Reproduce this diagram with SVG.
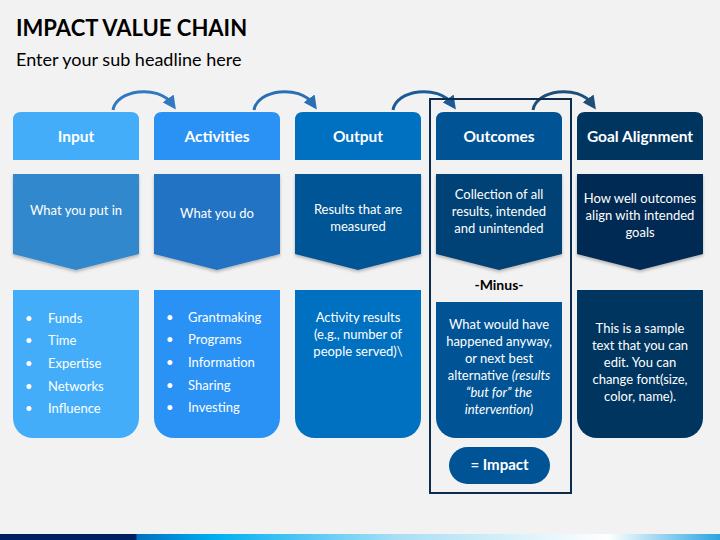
<svg xmlns="http://www.w3.org/2000/svg" width="720" height="540" viewBox="0 0 720 540">
<defs>
<style>
text{font-family:Lato,"Open Sans","Liberation Sans",sans-serif;}
.title{font-size:22px;font-weight:bold;fill:#000;}
.sub{font-size:18px;fill:#000;}
.hd{font-size:15.5px;font-weight:bold;fill:#fff;text-anchor:middle;}
.tx{font-size:13px;fill:#fff;text-anchor:middle;}
.bl{font-size:13px;fill:#fff;}
.arc{fill:none;stroke-width:3;}
</style>
<linearGradient id="bar" x1="0" y1="0" x2="1" y2="0">
<stop offset="0" stop-color="#002060"/>
<stop offset="0.189" stop-color="#002060"/>
<stop offset="0.19" stop-color="#0070c0"/>
<stop offset="0.3" stop-color="#00b0f0"/>
<stop offset="0.55" stop-color="#a8def5"/>
<stop offset="0.845" stop-color="#ffffff"/>
<stop offset="1" stop-color="#2ba3e0"/>
</linearGradient>
<marker id="ah1" viewBox="0 0 10 10" refX="5" refY="5" markerWidth="4.5" markerHeight="4.5" orient="auto"><path d="M0,0 L10,5 L0,10 Z" fill="#3079c0"/></marker>
<marker id="ah2" viewBox="0 0 10 10" refX="5" refY="5" markerWidth="4.5" markerHeight="4.5" orient="auto"><path d="M0,0 L10,5 L0,10 Z" fill="#2a6fb4"/></marker>
<marker id="ah3" viewBox="0 0 10 10" refX="5" refY="5" markerWidth="4.5" markerHeight="4.5" orient="auto"><path d="M0,0 L10,5 L0,10 Z" fill="#1b5a94"/></marker>
<marker id="ah4" viewBox="0 0 10 10" refX="5" refY="5" markerWidth="4.5" markerHeight="4.5" orient="auto"><path d="M0,0 L10,5 L0,10 Z" fill="#1f4e7a"/></marker>
<filter id="sh" x="-10%" y="-10%" width="120%" height="130%"><feDropShadow dx="0" dy="2" stdDeviation="1.5" flood-color="#000" flood-opacity="0.25"/></filter>
</defs>
<rect width="720" height="540" fill="#f2f2f2"/>
<text class="title" x="16" y="36">IMPACT VALUE CHAIN</text>
<text class="sub" x="16" y="66">Enter your sub headline here</text>

<g id="connectors">
<path class="arc" d="M113,110 C116,90 158,84 172,104" stroke="#3079c0" marker-end="url(#ah1)"/>
<path class="arc" d="M254,110 C257,90 299,84 313,104" stroke="#2a6fb4" marker-end="url(#ah2)"/>
<path class="arc" d="M393,110 C396,90 438,84 452,104" stroke="#1b5a94" marker-end="url(#ah3)"/>
<path class="arc" d="M533,110 C536,90 578,84 592,104" stroke="#1f4e7a" marker-end="url(#ah4)"/>
</g>

<rect id="outcomes-frame" x="430" y="99" width="141" height="394" fill="none" stroke="#0d2d50" stroke-width="2"/>

<g id="input">
<path d="M13,120 Q13,112 21,112 H131 Q139,112 139,120 V160 H13 Z" fill="#44adf9"/>
<text class="hd" x="76" y="142">Input</text>
<path d="M13,174 H139 V254 L76,270 L13,254 Z" fill="#3388cc" filter="url(#sh)"/>
<text class="tx" x="76" y="215">What you put in</text>
<path d="M13,290 H139 V418 A20,20 0 0 1 119,438 H33 A20,20 0 0 1 13,418 Z" fill="#44adf9"/>
<text class="bl" x="25" y="323">•</text><text class="bl" x="48" y="323">Funds</text>
<text class="bl" x="25" y="345">•</text><text class="bl" x="48" y="345">Time</text>
<text class="bl" x="25" y="368">•</text><text class="bl" x="48" y="368">Expertise</text>
<text class="bl" x="25" y="391">•</text><text class="bl" x="48" y="391">Networks</text>
<text class="bl" x="25" y="413">•</text><text class="bl" x="48" y="413">Influence</text>
</g>

<g id="activities">
<path d="M154,120 Q154,112 162,112 H272 Q280,112 280,120 V160 H154 Z" fill="#2a91f5"/>
<text class="hd" x="217" y="142">Activities</text>
<path d="M154,174 H280 V254 L217,270 L154,254 Z" fill="#2273c3" filter="url(#sh)"/>
<text class="tx" x="217" y="218">What you do</text>
<path d="M154,290 H280 V418 A20,20 0 0 1 260,438 H174 A20,20 0 0 1 154,418 Z" fill="#2a91f5"/>
<text class="bl" x="166" y="322">•</text><text class="bl" x="188" y="322">Grantmaking</text>
<text class="bl" x="166" y="344">•</text><text class="bl" x="188" y="344">Programs</text>
<text class="bl" x="166" y="367">•</text><text class="bl" x="188" y="367">Information</text>
<text class="bl" x="166" y="390">•</text><text class="bl" x="188" y="390">Sharing</text>
<text class="bl" x="166" y="412">•</text><text class="bl" x="188" y="412">Investing</text>
</g>

<g id="output">
<path d="M295,120 Q295,112 303,112 H413 Q421,112 421,120 V160 H295 Z" fill="#0070c0"/>
<text class="hd" x="358" y="142">Output</text>
<path d="M295,174 H421 V254 L358,270 L295,254 Z" fill="#005596" filter="url(#sh)"/>
<text class="tx" x="358" y="214">Results that are</text>
<text class="tx" x="358" y="231">measured</text>
<path d="M295,290 H421 V418 A20,20 0 0 1 401,438 H315 A20,20 0 0 1 295,418 Z" fill="#0070c0"/>
<text class="tx" x="358" y="322">Activity results</text>
<text class="tx" x="358" y="339">(e.g., number of</text>
<text class="tx" x="358" y="356">people served)\</text>
</g>

<g id="outcomes">
<path d="M436,120 Q436,112 444,112 H554 Q562,112 562,120 V160 H436 Z" fill="#005394"/>
<text class="hd" x="499" y="142">Outcomes</text>
<path d="M436,174 H562 V254 L499,270 L436,254 Z" fill="#004275" filter="url(#sh)"/>
<text class="tx" x="499" y="199">Collection of all</text>
<text class="tx" x="499" y="216">results, intended</text>
<text class="tx" x="499" y="233">and unintended</text>
</g>

<g id="minus">
<text x="499" y="290" style="font-size:14px;font-weight:bold;fill:#000;text-anchor:middle">-Minus-</text>
</g>

<g id="counterfactual">
<path d="M436,302 H562 V418 A20,20 0 0 1 542,438 H456 A20,20 0 0 1 436,418 Z" fill="#005394"/>
<text class="tx" x="499" y="329">What would have</text>
<text class="tx" x="499" y="346">happened anyway,</text>
<text class="tx" x="499" y="363">or next best</text>
<text class="tx" x="499" y="380">alternative <tspan font-style="italic">(results</tspan></text>
<text class="tx" x="499" y="397" font-style="italic">“but for” the</text>
<text class="tx" x="499" y="414" font-style="italic">intervention)</text>
</g>

<g id="impact">
<rect x="449" y="447" width="101" height="37" rx="18.5" fill="#005394"/>
<text x="499.5" y="470" style="font-size:15px;font-weight:bold;fill:#fff;text-anchor:middle">= Impact</text>
</g>

<g id="goal-alignment">
<path d="M577,120 Q577,112 585,112 H695 Q703,112 703,120 V160 H577 Z" fill="#003560"/>
<text class="hd" x="640" y="142">Goal Alignment</text>
<path d="M577,174 H703 V254 L640,270 L577,254 Z" fill="#002b52" filter="url(#sh)"/>
<text class="tx" x="640" y="203">How well outcomes</text>
<text class="tx" x="640" y="220">align with intended</text>
<text class="tx" x="640" y="237">goals</text>
<path d="M577,290 H703 V418 A20,20 0 0 1 683,438 H597 A20,20 0 0 1 577,418 Z" fill="#003560"/>
<text class="tx" x="640" y="333">This is a sample</text>
<text class="tx" x="640" y="350">text that you can</text>
<text class="tx" x="640" y="367">edit. You can</text>
<text class="tx" x="640" y="384">change font(size,</text>
<text class="tx" x="640" y="401">color, name).</text>
</g>

<rect x="0" y="534" width="720" height="6" fill="url(#bar)"/>
</svg>
